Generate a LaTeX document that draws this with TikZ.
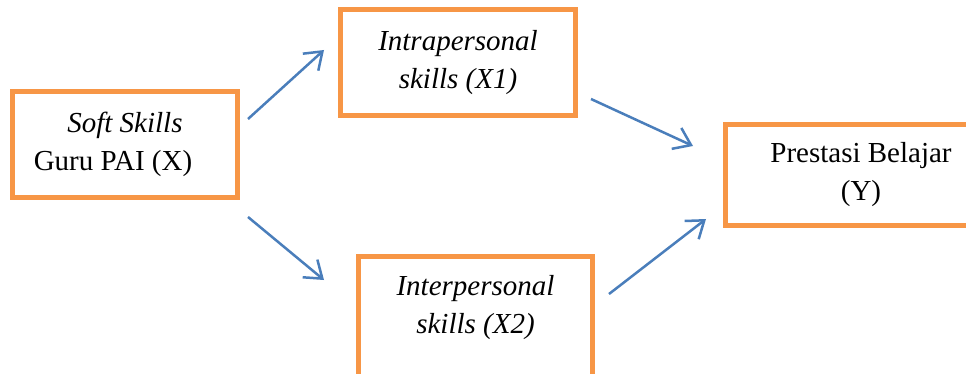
\documentclass[tikz,border=0pt]{standalone}
\usepackage{fontspec}
\setmainfont{Liberation Serif}
\usetikzlibrary{arrows.meta}
\definecolor{boxorange}{RGB}{247,150,70}
\definecolor{arrowblue}{RGB}{74,126,187}

\begin{document}
\begin{tikzpicture}[x=1pt, y=-1pt,
    skill box/.style={draw=boxorange, line width=5pt, fill=white, inner sep=0pt,
      align=center, font=\fontsize{29}{38}\selectfont},
    flow arrow/.style={draw=arrowblue, line width=2.5pt,
      -{Straight Barb[length=16pt, width=23pt]}}]
    \useasboundingbox (0,0) rectangle (966,374);
    % boxes
    \node [skill box, minimum width=225pt, minimum height=106pt] (softskill) at (125,144.5)
      {\textit{Soft Skills}\\Guru PAI (X)\hspace*{24pt}};
    \node [skill box, minimum width=235pt, minimum height=106pt] (intra) at (458,62.5)
      {\textit{Intrapersonal}\\\textit{skills (X1)}};
    \node [skill box, minimum width=234pt, anchor=north, inner ysep=19.5pt, text depth=120pt] (inter) at (475.5,253.5)
      {\textit{Interpersonal}\\\textit{skills (X2)}};
    \node [skill box, minimum width=271pt, minimum height=101pt] (prestasi) at (861,175)
      {Prestasi Belajar\\(Y)};
    % arrow ends
    \coordinate (soft-1) at (248,119);
    \coordinate (intra-in) at (324,50);
    \coordinate (soft-2) at (248,217);
    \coordinate (inter-in) at (324,280);
    \coordinate (intra-out) at (591,99);
    \coordinate (prestasi-1) at (693,146);
    \coordinate (inter-out) at (609,294);
    \coordinate (prestasi-2) at (706,219);
    \foreach \a/\b in {soft-1/intra-in, soft-2/inter-in, intra-out/prestasi-1, inter-out/prestasi-2}
      \draw [flow arrow] (\a) -- (\b);
\end{tikzpicture}
\end{document}
